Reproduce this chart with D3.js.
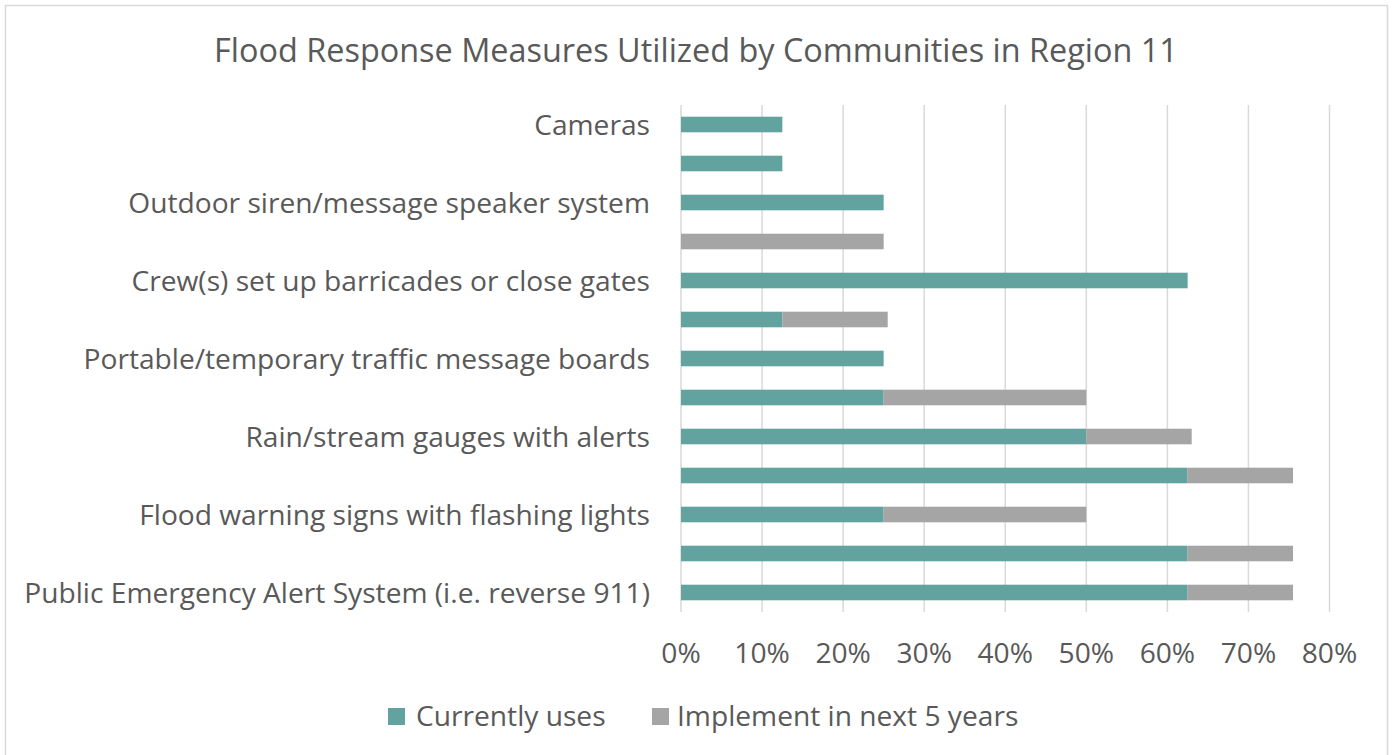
<!DOCTYPE html>
<html>
<head>
<meta charset="utf-8">
<script src="https://cdn.jsdelivr.net/npm/d3@7"></script>
<style>
  html, body { margin: 0; padding: 0; background: #fff; }
  text { font-family: "Open Sans", "Noto Sans", sans-serif; fill: #595959; }
</style>
</head>
<body>
<div id="chart"></div>
<script>
// rows listed top to bottom; Excel skipped every other axis label, so those are blank
var categories = [
    'Cameras',
    '',
    'Outdoor siren/message speaker system',
    '',
    'Crew(s) set up barricades or close gates',
    '',
    'Portable/temporary traffic message boards',
    '',
    'Rain/stream gauges with alerts',
    '',
    'Flood warning signs with flashing lights',
    '',
    'Public Emergency Alert System (i.e. reverse 911)'
];
var currentlyUses = [12.5, 12.5, 25, 0, 62.5, 12.5, 25, 25, 50, 62.5, 25, 62.5, 62.5];
var implementNext5 = [0, 0, 0, 25, 0, 13, 0, 25, 13, 13, 25, 13, 13];
var seriesNames = ['Currently uses', 'Implement in next 5 years'];
var xTicks = [0, 10, 20, 30, 40, 50, 60, 70, 80];
var chartTitle = 'Flood Response Measures Utilized by Communities in Region 11';

var W = 1395, H = 755;
var colors = ['#62a39f', '#a5a5a5'];
var plot = { left: 681, right: 1329.5, top: 105, bottom: 612 };

var svg = d3.select('#chart').append('svg')
    .attr('width', W).attr('height', H);

// chart frame
svg.append('rect')
    .attr('x', 5.5).attr('y', 5.5)
    .attr('width', 1382).attr('height', 770)
    .attr('fill', '#fff')
    .attr('stroke', '#d9d9d9')
    .attr('stroke-width', 1.5);

// shrink/grow a text node until it is about the wanted width
function fitWidth(sel, target) {
    var node = sel.node(),
        size = parseFloat(sel.style('font-size')),
        w = node.getComputedTextLength();
    return size * target / w;
}

var title = svg.append('text')
    .attr('x', 696).attr('y', 62)
    .attr('text-anchor', 'middle')
    .style('font-size', '30px')
    .text(chartTitle);
title.style('font-size', fitWidth(title, 964) + 'px');

var x = d3.scaleLinear().domain([0, 80]).range([plot.left, plot.right]);
var y = d3.scaleBand()
    .domain(d3.range(categories.length))
    .range([plot.top, plot.bottom])
    .paddingInner(0.6)
    .paddingOuter(0.3);

// gridlines
svg.append('g')
    .selectAll('line')
    .data(xTicks)
    .join('line')
    .attr('x1', function (d) { return x(d); })
    .attr('x2', function (d) { return x(d); })
    .attr('y1', plot.top).attr('y2', plot.bottom)
    .attr('stroke', '#d9d9d9')
    .attr('stroke-width', 1.5);

// stacked bars
var rows = categories.map(function (c, i) {
    return { i: i, vals: [currentlyUses[i], implementNext5[i]] };
});
var stack = d3.stack().keys([0, 1]).value(function (d, k) { return d.vals[k]; });
var layers = stack(rows);

svg.append('g')
    .selectAll('g')
    .data(layers)
    .join('g')
    .attr('fill', function (d, k) { return colors[k]; })
    .selectAll('rect')
    .data(function (d) { return d; })
    .join('rect')
    .attr('x', function (d) { return x(d[0]); })
    .attr('width', function (d) { return x(d[1]) - x(d[0]); })
    .attr('y', function (d) { return y(d.data.i); })
    .attr('height', y.bandwidth());

// category labels
var labelSize = 24;
var labels = svg.append('g')
    .selectAll('text')
    .data(categories)
    .join('text')
    .attr('x', 650)
    .attr('y', function (d, i) { return y(i) + y.bandwidth() / 2; })
    .attr('dy', '0.36em')
    .attr('text-anchor', 'end')
    .style('font-size', labelSize + 'px')
    .text(function (d) { return d; });
var longest = labels.filter(function (d) { return d === categories[12]; });
labelSize = fitWidth(longest, 626);
labels.style('font-size', labelSize + 'px');

// x axis tick labels
svg.append('g')
    .selectAll('text')
    .data(xTicks)
    .join('text')
    .attr('x', function (d) { return x(d); })
    .attr('y', 663)
    .attr('text-anchor', 'middle')
    .style('font-size', labelSize + 'px')
    .text(function (d) { return d + '%'; });

// legend
var legendItems = [
    { name: seriesNames[0], color: colors[0], box: 388, text: 416 },
    { name: seriesNames[1], color: colors[1], box: 652, text: 677 }
];
var legend = svg.append('g');
legend.selectAll('rect')
    .data(legendItems)
    .join('rect')
    .attr('x', function (d) { return d.box; })
    .attr('y', 708)
    .attr('width', 17).attr('height', 17)
    .attr('fill', function (d) { return d.color; });
legend.selectAll('text')
    .data(legendItems)
    .join('text')
    .attr('x', function (d) { return d.text; })
    .attr('y', 726)
    .style('font-size', labelSize + 'px')
    .text(function (d) { return d.name; });
</script>
</body>
</html>
